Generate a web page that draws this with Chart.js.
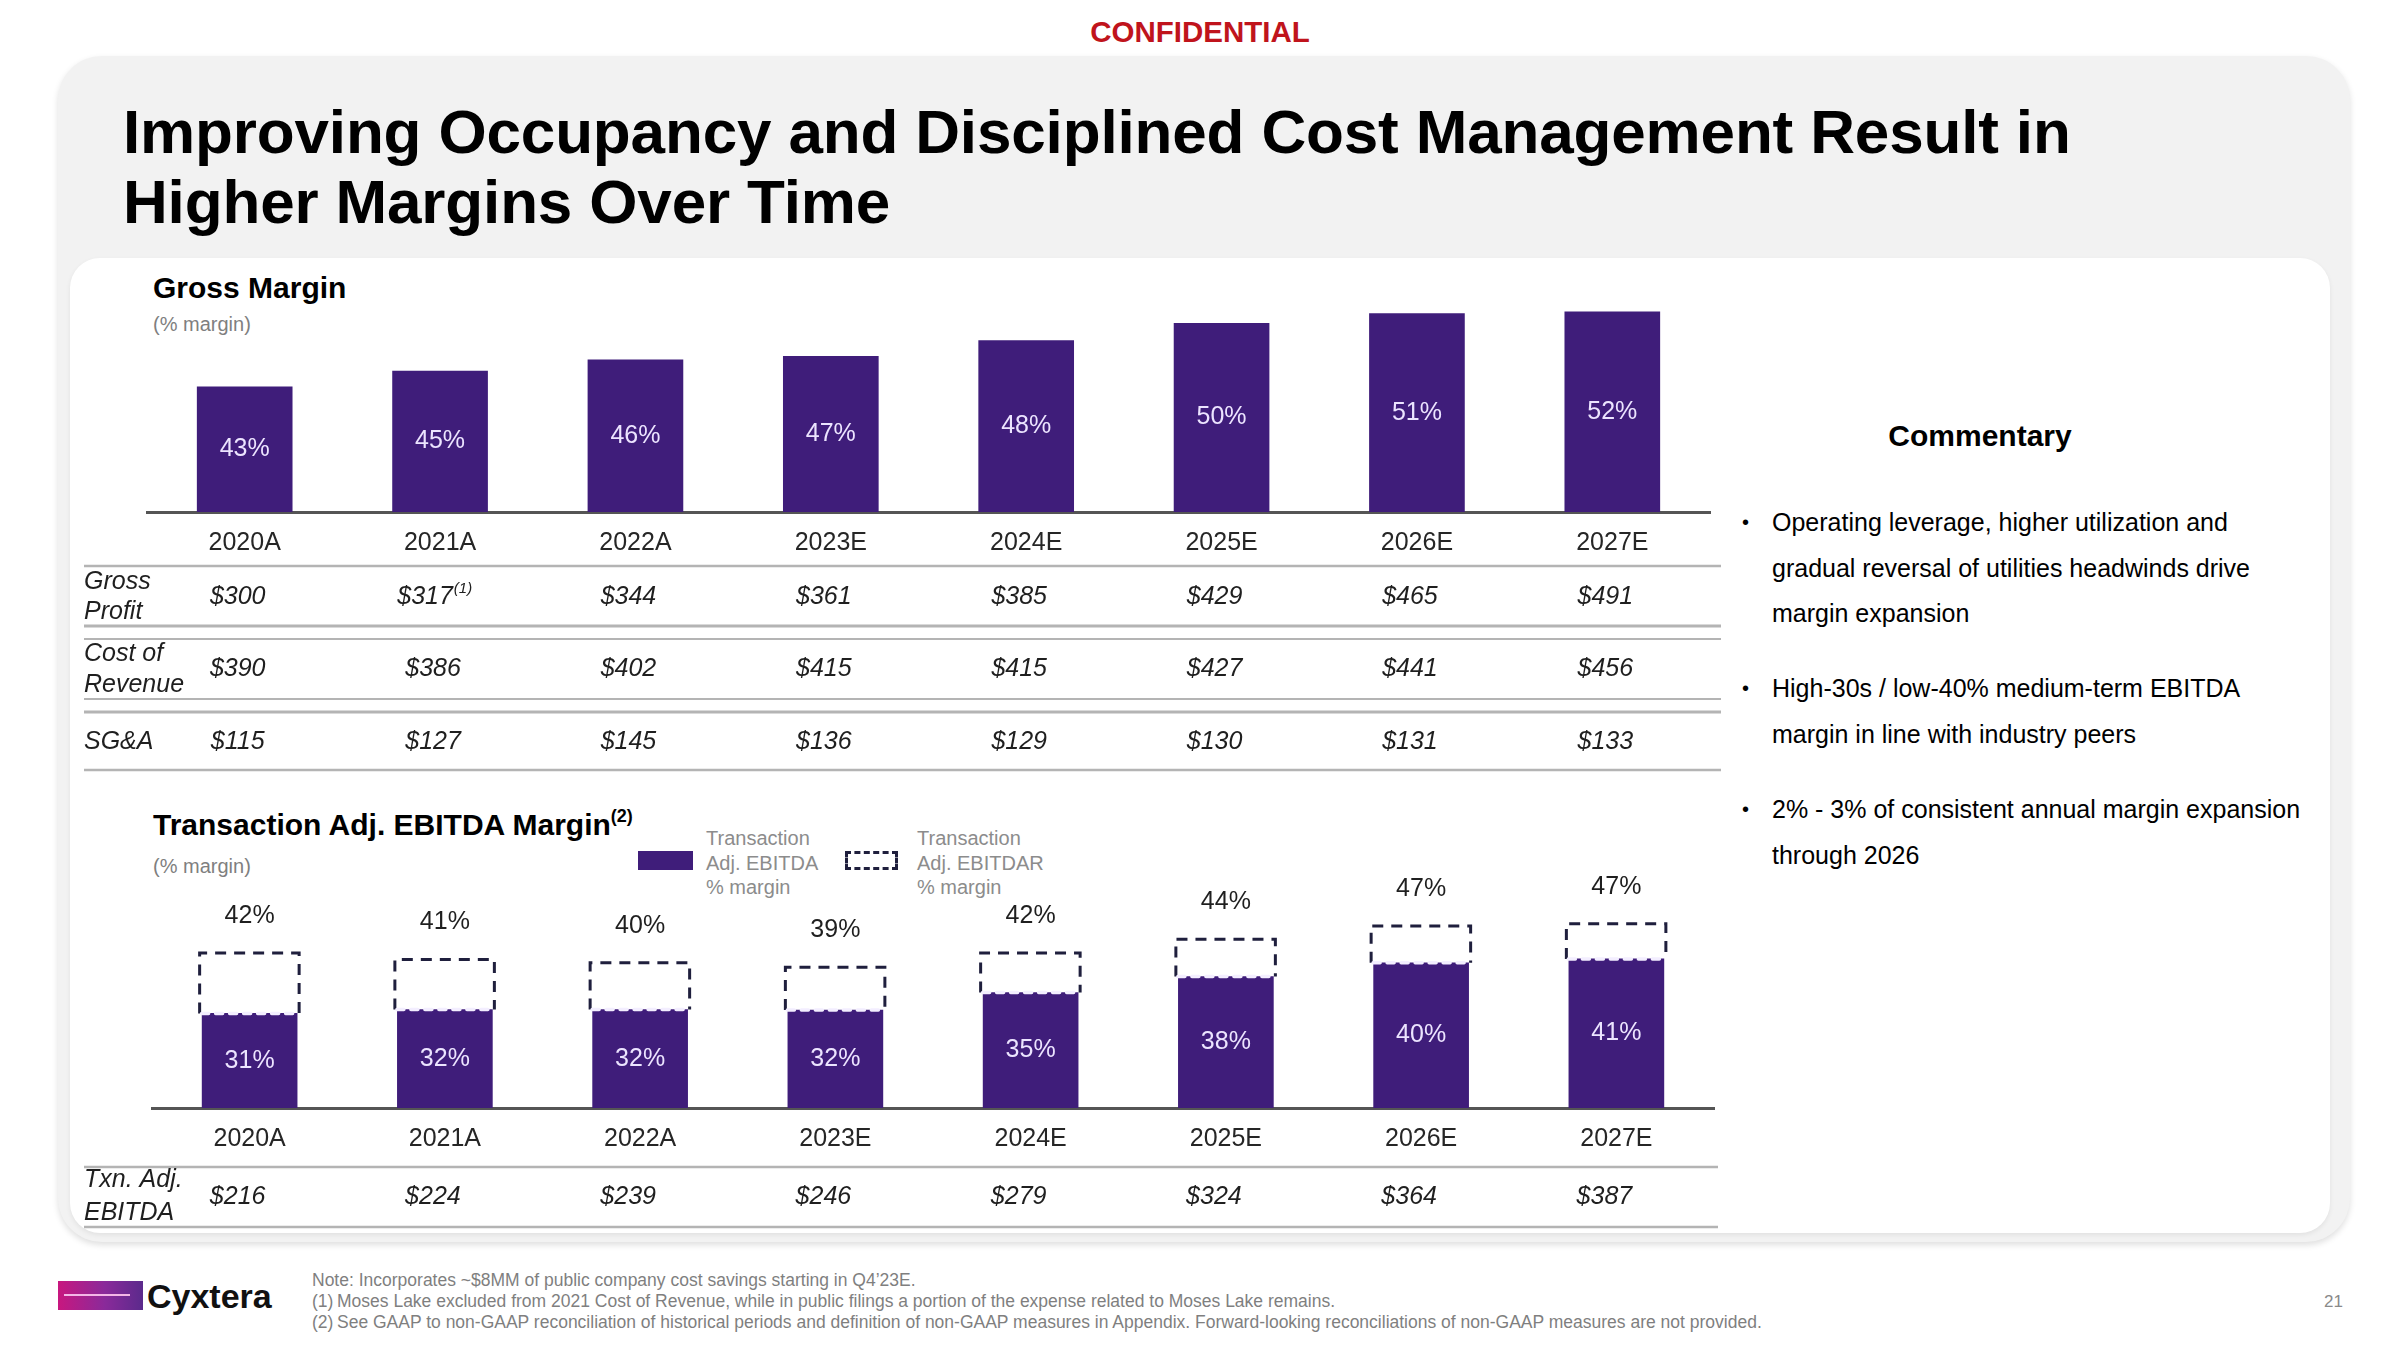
<!DOCTYPE html>
<html><head><meta charset="utf-8">
<script src="https://cdn.jsdelivr.net/npm/chart.js@4.4.1/dist/chart.umd.min.js"></script>
<style>
html,body{margin:0;padding:0;}
body{width:2400px;height:1350px;position:relative;overflow:hidden;background:#fff;font-family:'Liberation Sans',Arial,sans-serif;color:#000;}
.abs{position:absolute;white-space:nowrap;}
#outer{left:58px;top:56px;width:2292px;height:1186px;background:#f2f2f2;border-radius:44px;box-shadow:0 3px 6px rgba(0,0,0,0.13);}
#inner{left:70px;top:258px;width:2260px;height:975px;background:#fff;border-radius:30px;box-shadow:0 2px 5px rgba(0,0,0,0.07);}
#conf{left:0;width:2400px;top:15px;text-align:center;font-weight:bold;font-size:29.5px;line-height:34px;color:#c0141c;}
#title{left:123px;top:97px;font-weight:bold;font-size:62px;line-height:70px;color:#000;letter-spacing:-0.15px;}
.h2{font-weight:bold;font-size:30px;line-height:36px;color:#000;}
.sub{font-size:20px;line-height:24px;color:#7f7f7f;}
.leg{font-size:20px;line-height:24.5px;color:#8c8c8c;}
#comm{left:1780px;width:400px;text-align:center;top:418px;}
.bul{left:1742px;font-size:25px;line-height:45.5px;color:#000;}
.bul .dot{position:absolute;left:0;top:0;font-size:20px;}
.bul .txt{position:absolute;left:30px;top:0;}
.notes{left:312px;font-size:17.5px;line-height:21px;color:#7f7f7f;}
.notes span.n{display:inline-block;width:25px;}
canvas{position:absolute;}
</style>
</head>
<body>
<div id="outer" class="abs"></div>
<div id="conf" class="abs">CONFIDENTIAL</div>
<div id="title" class="abs">Improving Occupancy and Disciplined Cost Management Result in<br>Higher Margins Over Time</div>
<div id="inner" class="abs"></div>

<div class="abs h2" style="left:153px;top:270px;">Gross Margin</div>
<div class="abs sub" style="left:153px;top:312px;">(% margin)</div>
<div class="abs h2" style="left:153px;top:807px;">Transaction Adj. EBITDA Margin<sup style="font-size:18px;line-height:0;position:relative;top:-2px;vertical-align:super;">(2)</sup></div>
<div class="abs sub" style="left:153px;top:854px;">(% margin)</div>

<div class="abs" style="left:638px;top:851px;width:55px;height:19px;background:#3f1d7a;"></div>
<div class="abs leg" style="left:706px;top:826px;">Transaction<br>Adj. EBITDA<br>% margin</div>
<div class="abs" style="left:845px;top:851px;width:53px;height:19px;box-sizing:border-box;border:3px dashed #1f1f3d;"></div>
<div class="abs leg" style="left:917px;top:826px;">Transaction<br>Adj. EBITDAR<br>% margin</div>

<div id="comm" class="abs h2">Commentary</div>
<div class="abs bul" style="top:500px;"><span class="dot">•</span><span class="txt">Operating leverage, higher utilization and<br>gradual reversal of utilities headwinds drive<br>margin expansion</span></div>
<div class="abs bul" style="top:666px;"><span class="dot">•</span><span class="txt">High-30s / low-40% medium-term EBITDA<br>margin in line with industry peers</span></div>
<div class="abs bul" style="top:787px;"><span class="dot">•</span><span class="txt">2% - 3% of consistent annual margin expansion<br>through 2026</span></div>

<div class="abs" style="left:58px;top:1281px;width:85px;height:29px;background:linear-gradient(90deg,#c8177f 0%,#8a2a9a 55%,#5b2a8c 100%);"></div>
<div class="abs" style="left:64px;top:1294px;width:66px;height:2px;background:#f3b6e6;"></div>
<div class="abs" style="left:147px;top:1276px;font-weight:bold;font-size:34px;line-height:40px;color:#111;">Cyxtera</div>
<div class="abs notes" style="top:1270px;">Note: Incorporates ~$8MM of public company cost savings starting in Q4’23E.<br><span class="n">(1)</span>Moses Lake excluded from 2021 Cost of Revenue, while in public filings a portion of the expense related to Moses Lake remains.<br><span class="n">(2)</span>See GAAP to non-GAAP reconciliation of historical periods and definition of non-GAAP measures in Appendix. Forward-looking reconciliations of non-GAAP measures are not provided.</div>
<div class="abs" style="left:2324px;top:1291px;font-size:17px;line-height:22px;color:#8a8a8a;">21</div>

<canvas id="c1" width="1670" height="500" style="left:70px;top:280px;"></canvas>
<canvas id="c2" width="1670" height="390" style="left:70px;top:850px;"></canvas>

<script>
// ---------- data ----------
const years = ['2020A','2021A','2022A','2023E','2024E','2025E','2026E','2027E'];
const grossMargin = [43.0, 44.8, 46.1, 46.5, 48.3, 50.3, 51.4, 51.6];
const grossProfit = [300, 317, 344, 361, 385, 429, 465, 491];
const costOfRevenue = [390, 386, 402, 415, 415, 427, 441, 456];
const sgaExpense = [115, 127, 145, 136, 129, 130, 131, 133];
const ebitdaMargin = [30.9, 31.6, 31.6, 31.5, 34.7, 37.6, 40.1, 40.8];
const ebitdarMargin = [41.9, 40.7, 40.1, 39.3, 41.9, 44.4, 46.8, 47.2];
const txnAdjEbitda = [216, 224, 239, 246, 279, 324, 364, 387];
const footnoteIndex = 1; // 2021A gross profit carries footnote (1)

// ---------- styling ----------
const F = "'Liberation Sans', Arial, sans-serif";
const PURPLE = '#3f1d7a';
const LABEL_IN = '#ece4ff';
const INK = '#1f1f1f';
const RULE = '#b4b4b4';
Chart.defaults.font.family = F;
Chart.defaults.color = '#262626';
Chart.defaults.animation = false;

function pct(v){ return Math.round(v) + '%'; }
function money(v){ return '$' + v; }

function hRule(ctx, y, x1, x2, w){
  ctx.save(); ctx.strokeStyle = RULE; ctx.lineWidth = w || 2.5;
  ctx.beginPath(); ctx.moveTo(x1, y); ctx.lineTo(x2, y); ctx.stroke(); ctx.restore();
}

function xAxisOpts(){
  return {
    grid:{display:false, drawTicks:false},
    border:{display:true, color:'#555555', width:3},
    ticks:{font:{size:25}, color:'#262626', padding:16}
  };
}

// ---------- top chart: Gross Margin ----------
const topPlugin = {
  id:'topPlugin',
  afterDatasetsDraw(chart){
    const ctx = chart.ctx, meta = chart.getDatasetMeta(0), floor = chart.chartArea.bottom;
    ctx.save();
    ctx.font = '25px ' + F; ctx.fillStyle = LABEL_IN;
    ctx.textAlign = 'center'; ctx.textBaseline = 'middle';
    meta.data.forEach((b, i) => ctx.fillText(pct(grossMargin[i]), b.x, (b.y + Math.min(b.base, floor)) / 2));
    ctx.restore();
  },
  afterDraw(chart){
    const ctx = chart.ctx, xs = chart.scales.x, base = chart.chartArea.bottom;
    const L = 14, R = 1651;
    hRule(ctx, base + 54, L, R, 2.5);
    hRule(ctx, base + 114, L, R, 3);
    hRule(ctx, base + 127, L, R, 2);
    hRule(ctx, base + 187, L, R, 2);
    hRule(ctx, base + 200, L, R, 3);
    hRule(ctx, base + 258, L, R, 2.5);
    ctx.save();
    ctx.font = 'italic 25px ' + F; ctx.fillStyle = INK; ctx.textBaseline = 'middle';
    ctx.textAlign = 'left';
    ctx.fillText('Gross', L, base + 70); ctx.fillText('Profit', L, base + 100);
    ctx.fillText('Cost of', L, base + 142); ctx.fillText('Revenue', L, base + 173);
    ctx.fillText('SG&A', L, base + 230);
    ctx.textAlign = 'center';
    years.forEach((y, i) => {
      const cx = xs.getPixelForValue(i) - 7;
      if (i === footnoteIndex) {
        const t = money(grossProfit[i]);
        ctx.fillText(t, cx - 8, base + 85);
        const w = ctx.measureText(t).width;
        ctx.save(); ctx.font = 'italic 15px ' + F; ctx.textAlign = 'left';
        ctx.fillText('(1)', cx - 8 + w / 2 + 1, base + 77); ctx.restore();
      } else {
        ctx.fillText(money(grossProfit[i]), cx, base + 85);
      }
      ctx.fillText(money(costOfRevenue[i]), cx, base + 157);
      ctx.fillText(money(sgaExpense[i]), cx, base + 230);
    });
    ctx.restore();
  }
};

new Chart(document.getElementById('c1'), {
  type:'bar',
  data:{ labels: years, datasets:[{ label:'Gross Margin (% margin)', data: grossMargin, backgroundColor: PURPLE, barThickness: 95, borderWidth: 0 }] },
  options:{
    responsive:false, maintainAspectRatio:false, devicePixelRatio:1,
    layout:{ padding:{ left:77, right:30, top:14.5, bottom:206 } },
    plugins:{ legend:{display:false}, tooltip:{enabled:false} },
    scales:{
      x: xAxisOpts(),
      y: { display:false, min:28.6, max:53.6 }
    }
  },
  plugins:[topPlugin]
});

// ---------- bottom chart: Transaction Adj. EBITDA Margin ----------
const botPlugin = {
  id:'botPlugin',
  afterDatasetsDraw(chart){
    const ctx = chart.ctx, floor = chart.chartArea.bottom;
    const solid = chart.getDatasetMeta(0), dash = chart.getDatasetMeta(1);
    ctx.save();
    dash.data.forEach((b, i) => {
      const l = b.x - b.width / 2 - 2.5, r = b.x + b.width / 2 + 2;
      const top = b.y, bot = b.base;
      ctx.setLineDash([11, 8]); ctx.lineWidth = 3; ctx.strokeStyle = '#1f1f3d'; ctx.lineCap = 'butt';
      ctx.beginPath(); ctx.moveTo(l, bot); ctx.lineTo(l, top); ctx.lineTo(r, top); ctx.lineTo(r, bot); ctx.stroke();
      ctx.setLineDash([7, 7]); ctx.lineWidth = 3.5; ctx.strokeStyle = '#f3eeff'; ctx.lineCap = 'round';
      ctx.beginPath(); ctx.moveTo(l + 2, bot); ctx.lineTo(r - 2, bot); ctx.stroke();
    });
    ctx.setLineDash([]);
    ctx.font = '25px ' + F; ctx.textAlign = 'center'; ctx.textBaseline = 'middle';
    ctx.fillStyle = LABEL_IN;
    solid.data.forEach((b, i) => ctx.fillText(pct(ebitdaMargin[i]), b.x, (b.y + Math.min(b.base, floor)) / 2));
    ctx.fillStyle = INK;
    dash.data.forEach((b, i) => ctx.fillText(pct(ebitdarMargin[i]), b.x, b.y - 37));
    ctx.restore();
  },
  afterDraw(chart){
    const ctx = chart.ctx, xs = chart.scales.x, base = chart.chartArea.bottom;
    const L = 14, R = 1648;
    hRule(ctx, base + 59, L, R, 2.5);
    hRule(ctx, base + 119, L, R, 2.5);
    ctx.save();
    ctx.font = 'italic 25px ' + F; ctx.fillStyle = INK; ctx.textBaseline = 'middle';
    ctx.textAlign = 'left';
    ctx.fillText('Txn. Adj.', L, base + 72); ctx.fillText('EBITDA', L, base + 105);
    ctx.textAlign = 'center';
    years.forEach((y, i) => ctx.fillText(money(txnAdjEbitda[i]), xs.getPixelForValue(i) - 12, base + 89));
    ctx.restore();
  }
};

new Chart(document.getElementById('c2'), {
  type:'bar',
  data:{ labels: years, datasets:[
    { label:'Transaction Adj. EBITDA % margin', data: ebitdaMargin, backgroundColor: PURPLE, barThickness: 95, grouped:false, order:0, borderWidth:0 },
    { label:'Transaction Adj. EBITDAR % margin', data: ebitdarMargin.map((v, i) => [ebitdaMargin[i], v]), backgroundColor:'rgba(255,255,255,0)', barThickness: 95, grouped:false, order:1, borderWidth:0 }
  ] },
  options:{
    responsive:false, maintainAspectRatio:false, devicePixelRatio:1,
    layout:{ padding:{ left:82, right:26, top:30, bottom:70 } },
    plugins:{ legend:{display:false}, tooltip:{enabled:false} },
    scales:{
      x: xAxisOpts(),
      y: { display:false, min:13.7, max:55.15 }
    }
  },
  plugins:[botPlugin]
});
</script>
</body></html>
